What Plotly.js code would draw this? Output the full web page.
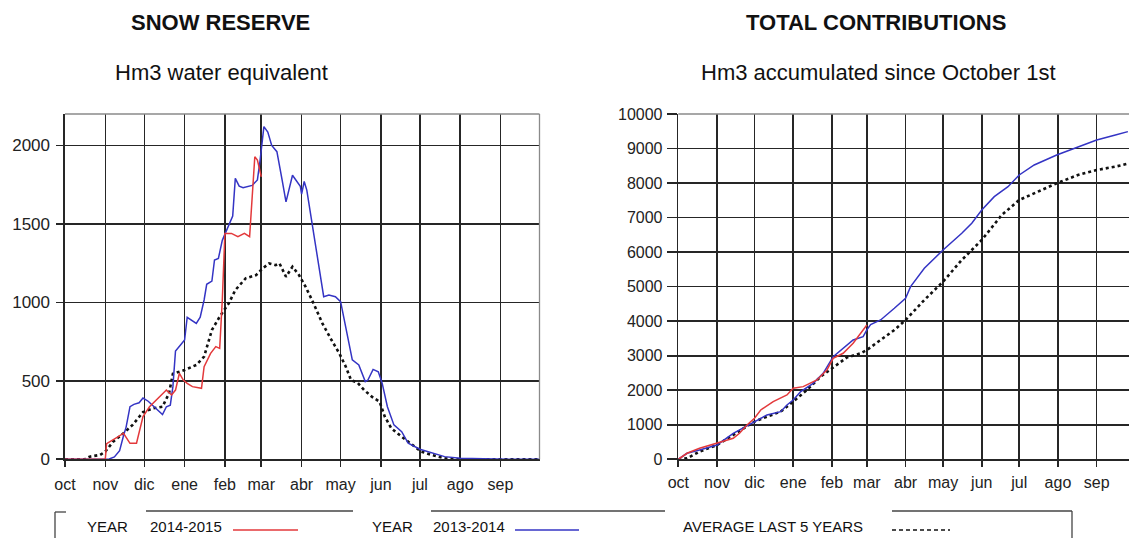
<!DOCTYPE html>
<html>
<head>
<meta charset="utf-8">
<script src="https://cdn.plot.ly/plotly-3.0.1.min.js"></script>
<style>
  html, body { margin: 0; padding: 0; background: #fff; }
  #chart { width: 1129px; height: 538px; }
</style>
</head>
<body>
<div id="chart"></div>
<script>
// ---- tick labels (months starting October 1st) ----
const months = ["oct", "nov", "dic", "ene", "feb", "mar", "abr", "may", "jun", "jul", "ago", "sep"];
const monthStartDay = [0, 31, 61, 92, 123, 151, 182, 212, 243, 273, 304, 335];
const snowTicks = [0, 500, 1000, 1500, 2000];
const snowTickText = ["0", "500", "1000", "1500", "2000"];
const contribTicks = [0, 1000, 2000, 3000, 4000, 5000, 6000, 7000, 8000, 9000, 10000];
const contribTickText = ["0", "1000", "2000", "3000", "4000", "5000", "6000", "7000", "8000", "9000", "10000"];

// ---- SNOW RESERVE (Hm3 water equivalent), x = days since Oct 1 ----
const snow1314Days = [0, 20, 31, 34, 38, 42, 45, 47, 50, 53, 57, 60, 64, 68, 71, 75, 78, 81, 83, 85, 89, 92, 94, 98, 101, 104, 107, 109, 113, 115, 118, 121, 126, 129, 131, 134, 137, 144, 148, 150, 153, 156, 159, 163, 167, 170, 175, 179, 181, 182, 184, 186, 190, 194, 199, 203, 208, 212, 216, 221, 226, 231, 233, 237, 241, 244, 248, 253, 259, 264, 273, 282, 292, 304, 318, 340, 365];
const snow1314 = [0, 0, 0, 2, 15, 55, 150, 205, 335, 350, 360, 390, 370, 340, 320, 285, 335, 345, 463, 690, 730, 760, 905, 880, 866, 905, 1015, 1115, 1135, 1270, 1280, 1395, 1485, 1550, 1790, 1740, 1730, 1745, 1780, 1900, 2120, 2085, 2000, 1960, 1780, 1640, 1810, 1760, 1740, 1690, 1770, 1715, 1500, 1290, 1036, 1047, 1036, 1004, 845, 633, 601, 495, 505, 573, 558, 484, 335, 219, 176, 102, 64, 42, 17, 6, 2, 0, 0];

const snow1415Days = [0, 20, 31, 32, 37, 41, 45, 50, 55, 60, 65, 70, 75, 78, 82, 85, 88, 91, 94, 98, 105, 107, 112, 116, 119, 121, 123, 128, 133, 138, 142, 143, 145, 146, 148, 149, 151];
const snow1415 = [0, 0, 2, 100, 123, 144, 166, 102, 102, 272, 335, 378, 420, 441, 410, 441, 548, 505, 484, 463, 452, 590, 675, 718, 707, 1015, 1439, 1439, 1418, 1439, 1418, 1545, 1737, 1928, 1907, 1875, 1800];

const snowAvgDays = [0, 15, 19, 27, 31, 37, 45, 52, 60, 68, 75, 80, 83, 92, 101, 107, 113, 119, 126, 131, 139, 147, 152, 157, 162, 165, 170, 175, 180, 185, 190, 198, 205, 211, 216, 220, 225, 230, 236, 242, 246, 251, 259, 267, 274, 282, 292, 305, 340, 365];
const snowAvg = [0, 0, 17, 28, 49, 112, 166, 219, 300, 325, 335, 420, 545, 569, 601, 654, 824, 909, 994, 1078, 1153, 1174, 1216, 1248, 1237, 1248, 1163, 1227, 1174, 1100, 1015, 866, 760, 675, 590, 505, 488, 442, 399, 367, 272, 197, 144, 91, 49, 28, 6, 0, 0, 0];

// ---- TOTAL CONTRIBUTIONS (Hm3 accumulated since October 1st) ----
const contrib1314Days = [0, 7, 17, 31, 44, 61, 71, 82, 87, 92, 98, 108, 116, 124, 132, 140, 148, 151, 154, 162, 173, 182, 186, 197, 212, 227, 235, 243, 253, 264, 273, 285, 303, 320, 335, 350, 360];
const contrib1314 = [0, 174, 270, 415, 753, 1091, 1284, 1380, 1573, 1718, 1960, 2200, 2490, 2973, 3214, 3456, 3552, 3750, 3900, 4035, 4373, 4663, 5000, 5531, 6062, 6545, 6834, 7220, 7606, 7896, 8234, 8524, 8813, 9054, 9247, 9393, 9489];

const contrib1415Days = [0, 7, 17, 31, 39, 44, 49, 55, 61, 66, 76, 87, 92, 100, 111, 119, 124, 132, 140, 146, 151];
const contrib1415 = [0, 174, 319, 463, 560, 608, 753, 994, 1187, 1429, 1670, 1863, 2056, 2104, 2297, 2587, 2925, 3070, 3359, 3649, 3890];

const contribAvgDays = [0, 7, 12, 17, 31, 44, 61, 71, 82, 92, 103, 114, 123, 135, 146, 151, 162, 173, 182, 197, 212, 227, 243, 259, 273, 285, 303, 320, 335, 350, 361];
const contribAvg = [0, 29, 125, 222, 415, 705, 1091, 1236, 1380, 1670, 2008, 2394, 2640, 2950, 3070, 3166, 3456, 3745, 4035, 4614, 5145, 5773, 6352, 7075, 7510, 7703, 7993, 8234, 8379, 8475, 8572];

// ---- styling ----
const W = 1129, H = 538;
const FONT = "Arial, 'Liberation Sans', sans-serif";
const INK = "#262626";
const RED = "#e3393b";
const BLUE = "#3434c4";
const px = v => v / W;
const py = v => 1 - v / H;

const yDomain = [py(459.3), py(114)];

function line(x, y, color, xa, ya, dash, width) {
  return { type: "scatter", mode: "lines", x: x, y: y, xaxis: xa, yaxis: ya,
    line: { color: color, width: width, dash: dash }, hoverinfo: "skip" };
}

const traces = [
  line(snowAvgDays, snowAvg, "#111", "x", "y", "dot", 2.6),
  line(snow1314Days, snow1314, BLUE, "x", "y", "solid", 1.5),
  line(snow1415Days, snow1415, RED, "x", "y", "solid", 1.5),
  line(contribAvgDays, contribAvg, "#111", "x2", "y2", "dot", 2.6),
  line(contrib1314Days, contrib1314, BLUE, "x2", "y2", "solid", 1.5),
  line(contrib1415Days, contrib1415, RED, "x2", "y2", "solid", 1.5)
];

const axisCommon = {
  showgrid: true, gridcolor: INK, gridwidth: 1.6, zeroline: false,
  showline: true, linecolor: INK, linewidth: 1.6,
  ticks: "outside", tickcolor: INK, tickwidth: 1.6,
  tickfont: { family: FONT, size: 16, color: "#222" }, fixedrange: true
};

const layout = {
  width: W, height: H,
  margin: { l: 0, r: 0, t: 0, b: 0, pad: 0 },
  paper_bgcolor: "#fff", plot_bgcolor: "#fff",
  showlegend: false,
  xaxis: Object.assign({}, axisCommon, {
    domain: [px(65), px(539.5)], range: [0, 365], anchor: "y",
    tickmode: "array", tickvals: monthStartDay, ticktext: months, ticklen: 6, ticklabelstandoff: 4
  }),
  yaxis: Object.assign({}, axisCommon, {
    domain: yDomain, range: [0, 2200], anchor: "x",
    tickmode: "array", tickvals: snowTicks, ticktext: snowTickText, ticklen: 7, ticklabelstandoff: 3,
    tickfont: { family: FONT, size: 17, color: "#222" }
  }),
  xaxis2: Object.assign({}, axisCommon, {
    domain: [px(678.3), 1], range: [0, 360.9], anchor: "y2",
    tickmode: "array", tickvals: monthStartDay, ticktext: months, ticklen: 6, ticklabelstandoff: 2
  }),
  yaxis2: Object.assign({}, axisCommon, {
    domain: yDomain, range: [0, 10000], anchor: "x2",
    tickmode: "array", tickvals: contribTicks, ticktext: contribTickText, ticklen: 10, ticklabelstandoff: 1
  }),
  shapes: [],
  annotations: []
};

// plot borders (top/right lighter)
layout.shapes.push({ type: "line", xref: "x domain", yref: "y domain", x0: 0, x1: 1, y0: 1, y1: 1, line: { color: "#8a8a8a", width: 1.3 } });
layout.shapes.push({ type: "line", xref: "x domain", yref: "y domain", x0: 1, x1: 1, y0: 0, y1: 1, line: { color: "#8a8a8a", width: 1.3 } });
layout.shapes.push({ type: "line", xref: "x2 domain", yref: "y2 domain", x0: 0, x1: 1, y0: 1, y1: 1, line: { color: "#8a8a8a", width: 1.3 } });

// titles
function text(t, x, y, size, bold, anchor) {
  layout.annotations.push({ xref: "paper", yref: "paper", x: px(x), y: py(y), text: bold ? "<b>" + t + "</b>" : t,
    showarrow: false, xanchor: anchor || "center", yanchor: "middle",
    font: { family: FONT, size: size, color: "#111" } });
}
text("SNOW RESERVE", 220, 22, 22, true);
text("Hm3 water equivalent", 221, 72, 22, false);
text("TOTAL CONTRIBUTIONS", 876, 22, 22, true);
text("Hm3 accumulated since October 1st", 878, 72, 22, false);

// legend frame
function seg(x0, y0, x1, y1, color, width, dash) {
  layout.shapes.push({ type: "line", xref: "paper", yref: "paper", x0: px(x0), x1: px(x1), y0: py(y0), y1: py(y1),
    line: { color: color, width: width, dash: dash || "solid" } });
}
const FR = "#444";
seg(55, 512, 55, 545, FR, 1.3);
seg(55, 512, 66, 512, FR, 1.3);
seg(146, 511, 353, 511, FR, 1.3);
seg(431, 511, 665, 511, FR, 1.3);
seg(892, 511, 1072, 511, FR, 1.3);
seg(1072, 511, 1072, 545, FR, 1.3);
// legend samples
seg(233, 530, 298, 530, RED, 1.5);
seg(515, 530, 579, 530, BLUE, 1.5);
seg(892, 530, 950, 530, "#111", 1.3, "4px,3px");

text("YEAR", 85, 526, 15, false, "left");
text("2014-2015", 148, 526, 15, false, "left");
text("YEAR", 370, 526, 15, false, "left");
text("2013-2014", 431, 526, 15, false, "left");
text("AVERAGE LAST 5 YEARS", 681, 526, 15, false, "left");

Plotly.newPlot("chart", traces, layout, { staticPlot: true, displayModeBar: false });
</script>
</body>
</html>
